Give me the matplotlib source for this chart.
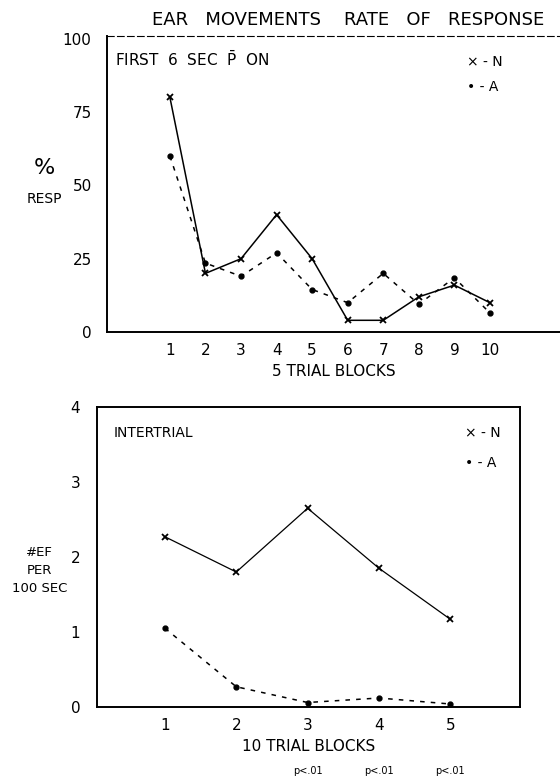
import matplotlib
matplotlib.use('Agg')
import matplotlib.pyplot as plt

# data
blocks_5 = [1, 2, 3, 4, 5, 6, 7, 8, 9, 10]
resp_n = [80, 20, 25, 40, 25, 4, 4, 12, 16, 10]
resp_a = [60, 23.5, 19, 27, 14.5, 10, 20, 9.5, 18.5, 6.5]

blocks_10 = [1, 2, 3, 4, 5]
ef_n = [2.27, 1.8, 2.65, 1.85, 1.17]
ef_a = [1.05, 0.27, 0.06, 0.12, 0.04]

top_ticks = [0, 25, 50, 75, 100]
bot_ticks = [0, 1, 2, 3, 4]
sig_labels = ['p<.01', 'p<.01', 'p<.01']
sig_blocks = [3, 4, 5]

plt.rcParams['font.family'] = ['DejaVu Sans']
plt.rcParams['mathtext.fontset'] = 'dejavusans'
fs = 11

fig = plt.figure(figsize=(5.6, 7.82), dpi=100)

# upper panel
ax1 = fig.add_axes([0.191, 0.5754, 0.809, 0.3785])
ax1.plot(blocks_5, resp_n, 'k-', lw=1.1, marker='x', ms=4, mew=1.3)
ax1.plot(blocks_5, resp_a, 'k', ls=(0, (3, 4)), lw=1.1, marker='o', ms=3.5)
ax1.set_xlim(-0.77, 11.97)
ax1.set_ylim(0, 100.9)
ax1.set_yticks(top_ticks)
ax1.set_xticks(blocks_5)
ax1.tick_params(length=0, labelsize=fs, pad=11)
ax1.tick_params(axis='x', pad=8)
ax1.spines['right'].set_visible(False)
ax1.spines['top'].set_linestyle((0, (6, 3)))
ax1.spines['top'].set_linewidth(0.8)
ax1.spines['left'].set_linewidth(1.4)
ax1.spines['bottom'].set_linewidth(1.4)
ax1.set_xlabel('5 TRIAL BLOCKS', fontsize=fs, labelpad=4)
ax1.text(0.018, 0.9, r'FIRST  6  SEC  $\bar{\mathrm{P}}$  ON', transform=ax1.transAxes, fontsize=fs)
ax1.text(0.795, 0.9, '\u00d7 - N', transform=ax1.transAxes, fontsize=fs - 1)
ax1.text(0.795, 0.815, '\u2022 - A', transform=ax1.transAxes, fontsize=fs - 1)
fig.text(0.08, 0.778, '%', fontsize=fs + 5, ha='center')
fig.text(0.08, 0.74, 'RESP', fontsize=fs - 1, ha='center')
fig.text(0.622, 0.968, 'EAR   MOVEMENTS    RATE   OF   RESPONSE', fontsize=fs + 2, ha='center')

# lower panel
ax2 = fig.add_axes([0.173, 0.0959, 0.756, 0.3836])
ax2.plot(blocks_10, ef_n, 'k-', lw=0.9, marker='x', ms=4, mew=1.3)
ax2.plot(blocks_10, ef_a, 'k', ls=(0, (3, 4)), lw=1.1, marker='o', ms=3.5)
ax2.set_xlim(0.046, 5.98)
ax2.set_ylim(0, 4)
ax2.set_yticks(bot_ticks)
ax2.set_xticks(blocks_10)
ax2.tick_params(length=0, labelsize=fs, pad=12)
ax2.tick_params(axis='x', pad=8)
for s in ax2.spines.values():
    s.set_linewidth(1.4)
ax2.set_xlabel('10 TRIAL BLOCKS', fontsize=fs, labelpad=4)
ax2.text(0.04, 0.9, 'INTERTRIAL', transform=ax2.transAxes, fontsize=fs - 1)
ax2.text(0.87, 0.9, '\u00d7 - N', transform=ax2.transAxes, fontsize=fs - 1)
ax2.text(0.87, 0.8, '\u2022 - A', transform=ax2.transAxes, fontsize=fs - 1)
fig.text(0.07, 0.27, '#EF\nPER\n100 SEC', fontsize=fs - 1.5, ha='center', va='center',
         linespacing=1.5)

for b, lab in zip(sig_blocks, sig_labels):
    x_fig = fig.transFigure.inverted().transform(ax2.transData.transform((b, 0)))[0]
    fig.text(x_fig, 0.01, lab, fontsize=7, ha='center')

fig.savefig('out.png', dpi=100)
